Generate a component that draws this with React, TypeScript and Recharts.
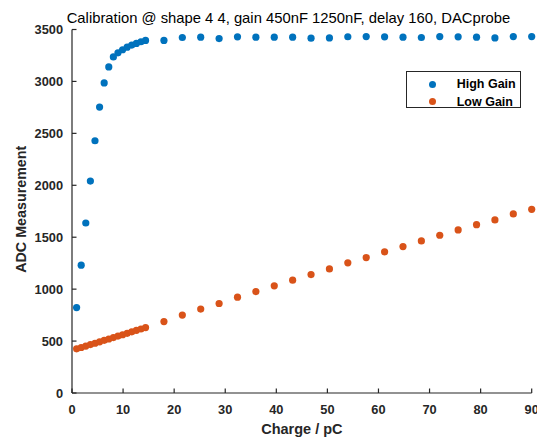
import React from 'react';
import { ScatterChart, Scatter, XAxis, YAxis, Legend } from 'recharts';

const chargeDense = [0.9, 1.8, 2.7, 3.6, 4.5, 5.4, 6.3, 7.2, 8.1, 9.0, 9.9, 10.8, 11.7, 12.6, 13.5, 14.4];
const chargeSparse = [18, 21.6, 25.2, 28.8, 32.4, 36, 39.6, 43.2, 46.8, 50.4, 54, 57.6, 61.2, 64.8, 68.4, 72, 75.6, 79.2, 82.8, 86.4, 90];
const highGainDense = [823, 1231, 1637, 2041, 2429, 2753, 2986, 3140, 3236, 3275, 3305, 3330, 3350, 3366, 3382, 3395];
const highGainSparse = [3395, 3423, 3426, 3413, 3429, 3426, 3426, 3426, 3416, 3419, 3430, 3432, 3429, 3426, 3423, 3432, 3429, 3426, 3419, 3432, 3432];
const lowGainDense = [425, 438, 452, 466, 479, 493, 507, 520, 534, 548, 561, 575, 589, 603, 616, 630];
const lowGainSparse = [688, 750, 808, 862, 923, 977, 1032, 1086, 1140, 1195, 1253, 1304, 1359, 1410, 1464, 1519, 1570, 1621, 1666, 1724, 1769];

const xTicks = [0, 10, 20, 30, 40, 50, 60, 70, 80, 90];
const yTicks = [0, 500, 1000, 1500, 2000, 2500, 3000, 3500];
const seriesNames = ['High Gain', 'Low Gain'];
const titleText = 'Calibration @ shape 4 4, gain 450nF 1250nF, delay 160, DACprobe';
const xLabel = 'Charge / pC';
const yLabel = 'ADC Measurement';

const BLUE = '#0072BD';
const ORANGE = '#D95319';
const AXIS = '#262626';
const FONT = '"Liberation Sans", Arial, Helvetica, sans-serif';
const TICK_MARGIN = 9;
const TICK_LEN = 4.5;
const TICK_FONT = 12.8;

const highData = [
  ...chargeDense.map((x, i) => ({ x, y: highGainDense[i] })),
  ...chargeSparse.map((x, i) => ({ x, y: highGainSparse[i] })),
];
const lowData = [
  ...chargeDense.map((x, i) => ({ x, y: lowGainDense[i] })),
  ...chargeSparse.map((x, i) => ({ x, y: lowGainSparse[i] })),
];

const XTick = (props: any) => {
  const { x, y, payload } = props;
  const axisY = y - TICK_MARGIN;
  return (
    <g>
      <line x1={x} x2={x} y1={axisY} y2={axisY - TICK_LEN} stroke={AXIS} strokeWidth={1.2} />
      <text x={x} y={axisY + 20.5} textAnchor="middle" fontFamily={FONT} fontWeight="bold" fontSize={TICK_FONT} fill={AXIS}>
        {payload.value}
      </text>
    </g>
  );
};

const YTick = (props: any) => {
  const { x, y, payload } = props;
  const axisX = x + TICK_MARGIN;
  return (
    <g>
      <line x1={axisX} x2={axisX + TICK_LEN} y1={y} y2={y} stroke={AXIS} strokeWidth={1.2} />
      <text x={x} y={y} dy="0.36em" textAnchor="end" fontFamily={FONT} fontWeight="bold" fontSize={TICK_FONT} fill={AXIS}>
        {payload.value}
      </text>
    </g>
  );
};

const dot = (color: string) => (p: any) => <circle cx={p.cx} cy={p.cy} r={3.6} fill={color} />;

const LegendBox = () => {
  const colors = [BLUE, ORANGE];
  const rows = [12.8, 30.2];
  return (
    <div
      style={{
        position: 'relative',
        width: 115,
        height: 37,
        boxSizing: 'border-box',
        border: `1px solid ${AXIS}`,
        background: '#fff',
        fontFamily: FONT,
      }}
    >
      {seriesNames.map((n, i) => (
        <div key={n} style={{ position: 'absolute', left: 0, top: rows[i] - 9, height: 18, width: 113, display: 'flex', alignItems: 'center' }}>
          <div style={{ position: 'absolute', left: 22.1, width: 7.2, height: 7.2, borderRadius: '50%', background: colors[i] }} />
          <span style={{ position: 'absolute', left: 49.7, fontWeight: 'bold', fontSize: 12.5, color: '#000', whiteSpace: 'nowrap', lineHeight: '18px' }}>{n}</span>
        </div>
      ))}
    </div>
  );
};

export default function App() {
  return (
    <div style={{ position: 'absolute', left: 0, top: 0, width: 537, height: 437, background: '#fff', overflow: 'hidden' }}>
      <ScatterChart width={537} height={437} margin={{ top: 29.5, right: 5.3, bottom: 0, left: 0 }}>
        <XAxis
          type="number"
          dataKey="x"
          domain={[0, 90]}
          ticks={xTicks}
          interval={0}
          tickSize={0}
          tickMargin={TICK_MARGIN}
          tickLine={false}
          tick={<XTick />}
          height={44}
          axisLine={{ stroke: AXIS, strokeWidth: 1.2 }}
          label={{ value: xLabel, position: 'insideBottom', offset: 3.5, fontFamily: FONT, fontWeight: 'bold', fontSize: 14.5, fill: AXIS }}
        />
        <YAxis
          type="number"
          dataKey="y"
          domain={[0, 3500]}
          ticks={yTicks}
          interval={0}
          tickSize={0}
          tickMargin={TICK_MARGIN}
          tickLine={false}
          tick={<YTick />}
          width={72}
          axisLine={{ stroke: AXIS, strokeWidth: 1.2 }}
          label={{ value: yLabel, angle: -90, position: 'insideLeft', offset: 20.5, dy: -2, textAnchor: 'middle', fontFamily: FONT, fontWeight: 'bold', fontSize: 14.3, fill: AXIS }}
        />
        <Legend
          layout="vertical"
          align="center"
          verticalAlign="middle"
          wrapperStyle={{ top: 70.5, left: 406, width: 115, height: 37 }}
          content={() => <LegendBox />}
        />
        <Scatter name={seriesNames[0]} data={highData} fill={BLUE} shape={dot(BLUE)} isAnimationActive={false} />
        <Scatter name={seriesNames[1]} data={lowData} fill={ORANGE} shape={dot(ORANGE)} isAnimationActive={false} />
      </ScatterChart>
      <svg width={537} height={437} style={{ position: 'absolute', left: 0, top: 0, pointerEvents: 'none' }}>
        <text x={288.5} y={22.5} textAnchor="middle" fontFamily={FONT} fontSize={14.8} fill="#000">
          {titleText}
        </text>
      </svg>
    </div>
  );
}
